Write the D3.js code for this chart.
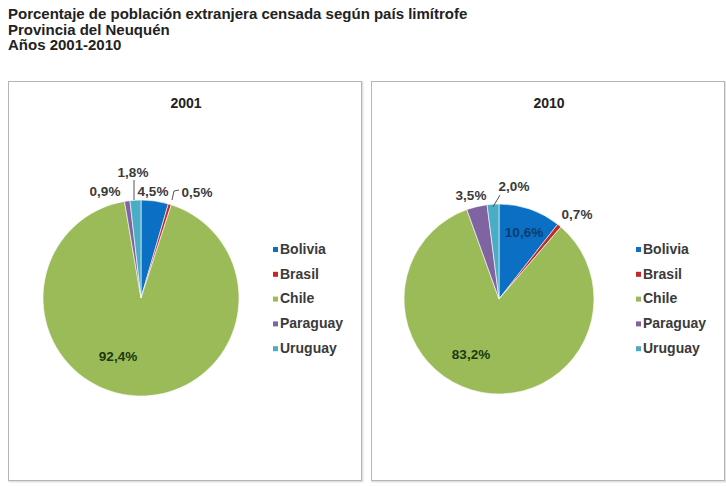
<!DOCTYPE html>
<html>
<head>
<meta charset="utf-8">
<script src="https://cdn.jsdelivr.net/npm/d3@7"></script>
<style>
  body { margin: 0; background: #fff; }
  svg { font-family: "Liberation Sans", Arial, sans-serif; }
</style>
</head>
<body>
<svg id="chart" width="726" height="486"></svg>
<script>
// --------- data ---------
const countries = ['Bolivia', 'Brasil', 'Chile', 'Paraguay', 'Uruguay'];
const values2001 = [4.5, 0.5, 92.4, 0.9, 1.8];
const values2010 = [10.6, 0.7, 83.2, 3.5, 2.0];
const years = ['2001', '2010'];
const titleLines = [
    'Porcentaje de población extranjera censada según país limítrofe',
    'Provincia del Neuquén',
    'Años 2001-2010'
];
const colors = ['#0b6fc4', '#c3262b', '#9bbb59', '#8064a2', '#4bacc6'];

const svg = d3.select('#chart');
const color = d3.scaleOrdinal().domain(countries).range(colors);
const fmt = v => d3.format('.1f')(v).replace('.', ',') + '%';

// title
svg.selectAll('.title')
    .data(titleLines)
    .enter().append('text')
    .attr('x', 8)
    .attr('y', (d, i) => 19 + i * 15.5)
    .attr('font-size', 15)
    .attr('font-weight', 'bold')
    .attr('fill', '#222')
    .text(d => d);

// panels: position + label placement per pie (offsets from pie centre)
const panels = [
    { year: years[0], values: values2001, x: 8, cx: 141, cy: 298, r: 98,
      labels: [
          { dx: 12, dy: -106 },                                          // Bolivia
          { dx: 56, dy: -105, leader: [[31, -98], [33, -107], [38, -108]] }, // Brasil
          { dx: -23, dy: 59, inside: true },                             // Chile
          { dx: -36, dy: -106 },                                         // Paraguay
          { dx: -8, dy: -125, leader: [[-7, -98], [-7, -118]] }          // Uruguay
      ] },
    { year: years[1], values: values2010, x: 371, cx: 499, cy: 299, r: 95,
      labels: [
          { dx: 25, dy: -66, inside: true, dark: true },
          { dx: 78, dy: -84 },
          { dx: -28, dy: 56, inside: true },
          { dx: -28, dy: -103 },
          { dx: 15, dy: -112, leader: [[-6, -92], [1, -104]] }
      ] }
];

const pie = d3.pie().sort(null).value(d => d);
const arc = d3.arc().innerRadius(0);

panels.forEach(p => {
    const g = svg.append('g');

    // frame
    g.append('rect')
        .attr('x', p.x + 1.5).attr('y', 82.5)
        .attr('width', 353).attr('height', 399)
        .attr('fill', 'none').attr('stroke', '#e2e2e2').attr('stroke-width', 2);
    g.append('rect')
        .attr('x', p.x + 0.5).attr('y', 81.5)
        .attr('width', 353).attr('height', 399)
        .attr('fill', '#fff').attr('stroke', '#b5b5b5');

    g.append('text')
        .attr('x', p.x + 178).attr('y', 108)
        .attr('text-anchor', 'middle')
        .attr('font-size', 14).attr('font-weight', 'bold')
        .attr('fill', '#222')
        .text(p.year);

    const pg = g.append('g').attr('transform', `translate(${p.cx},${p.cy})`);
    pg.selectAll('path')
        .data(pie(p.values))
        .enter().append('path')
        .attr('d', d => arc.outerRadius(p.r)(d))
        .attr('fill', (d, i) => color(countries[i]))
        .attr('stroke', '#fff')
        .attr('stroke-width', 0.6);

    // leader lines
    p.labels.forEach(l => {
        if (l.leader) {
            pg.append('path')
                .attr('d', d3.line()(l.leader))
                .attr('fill', 'none')
                .attr('stroke', '#555')
                .attr('stroke-width', 1);
        }
    });

    pg.selectAll('.lbl')
        .data(p.values)
        .enter().append('text')
        .attr('class', 'lbl')
        .attr('x', (d, i) => p.labels[i].dx)
        .attr('y', (d, i) => p.labels[i].dy)
        .attr('text-anchor', 'middle')
        .attr('dominant-baseline', 'middle')
        .attr('font-size', 13.5).attr('font-weight', 'bold')
        .attr('fill', (d, i) => p.labels[i].dark ? '#0a3d6e' : (p.labels[i].inside ? '#1b3a0e' : '#3a3a3a'))
        .text(d => fmt(d));

    // legend
    const lx = p.x + 265;
    const leg = g.selectAll('.leg')
        .data(countries)
        .enter().append('g')
        .attr('transform', (d, i) => `translate(${lx},${249.5 + i * 24.8})`);
    leg.append('rect')
        .attr('x', 0).attr('y', -2.5)
        .attr('width', 5).attr('height', 5)
        .attr('fill', d => color(d));
    leg.append('text')
        .attr('x', 7).attr('y', 0.5)
        .attr('dominant-baseline', 'middle')
        .attr('font-size', 14).attr('font-weight', 'bold')
        .attr('fill', '#3a3a3a')
        .text(d => d);
});
</script>
</body>
</html>
